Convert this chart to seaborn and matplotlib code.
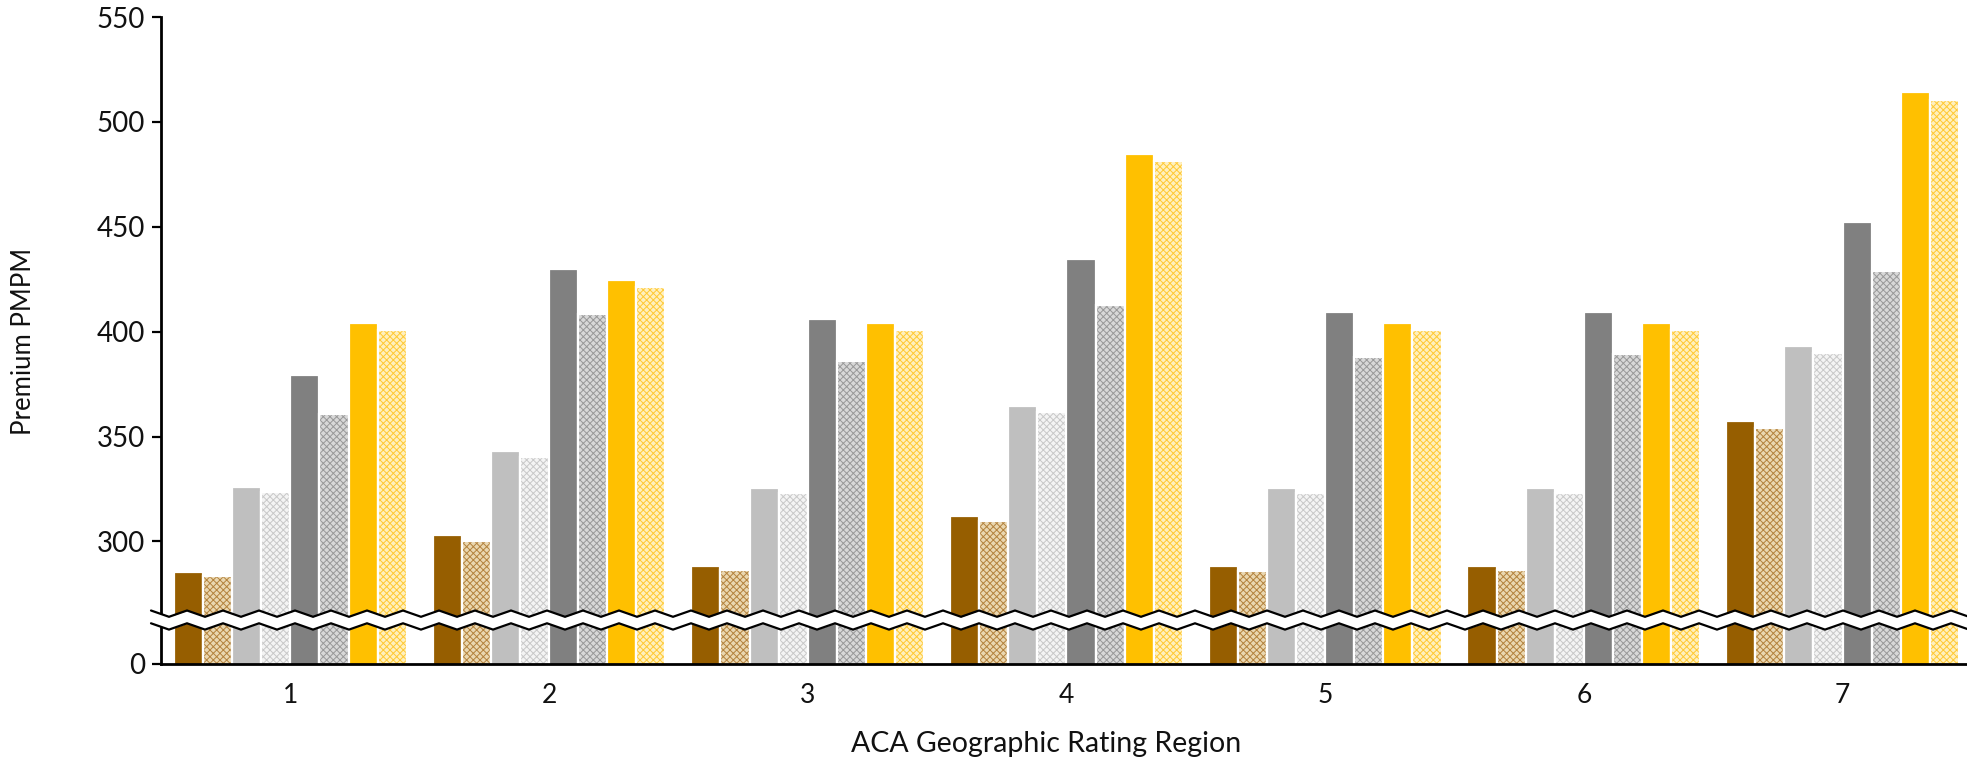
import numpy as np
import pandas as pd
import matplotlib
matplotlib.use("Agg")
import matplotlib.pyplot as plt
from matplotlib.colors import to_rgba
import seaborn as sns

# ---- data -------------------------------------------------------------
regions = ["1", "2", "3", "4", "5", "6", "7"]

bronze     = [285.5, 303.0, 288.2, 312.3, 288.1, 288.2, 357.4]
bronze_b   = [283.5, 300.3, 286.3, 309.8, 286.1, 286.2, 354.3]
silver     = [325.9, 342.9, 325.7, 364.5, 325.6, 325.7, 393.3]
silver_b   = [323.4, 340.4, 323.2, 361.9, 323.1, 323.3, 390.0]
charcoal   = [379.3, 430.0, 406.0, 434.6, 409.2, 409.2, 452.4]
charcoal_b = [361.0, 408.5, 386.2, 412.8, 388.0, 389.4, 429.0]
gold       = [404.3, 424.4, 404.1, 484.7, 404.0, 404.0, 514.2]
gold_b     = [401.0, 421.4, 400.9, 481.2, 400.8, 401.0, 510.3]

series_names = ["bronze", "bronze_b", "silver", "silver_b",
                "charcoal", "charcoal_b", "gold", "gold_b"]
series_values = [bronze, bronze_b, silver, silver_b,
                 charcoal, charcoal_b, gold, gold_b]

y_tick_values = [300, 350, 400, 450, 500, 550]
y_tick_labels = ["300", "350", "400", "450", "500", "550"]
zero_label = "0"

x_label = "ACA Geographic Rating Region"
y_label = "Premium PMPM"

# ---- styling ----------------------------------------------------------
AXIS_FLOOR = 241.6          # value where the (broken) axis meets the x-axis
BREAK_LOW, BREAK_HIGH = 259.5, 265.6

solid_colors = {"bronze": "#965E00", "silver": "#BFBFBF",
                "charcoal": "#808080", "gold": "#FFC000"}
# patterned bars: light ground + darker checker
pattern_colors = {"bronze_b": ("#EAD7B0", "#B3823C"),
                  "silver_b": ("#F4F4F4", "#C8C8C8"),
                  "charcoal_b": ("#D8D8D8", "#989898"),
                  "gold_b": ("#FFF0BE", "#FFC933")}

palette = []
for name in series_names:
    if name in solid_colors:
        palette.append(solid_colors[name])
    else:
        palette.append(pattern_colors[name][0])

sns.set_theme(style="ticks")
plt.rcParams["font.family"] = ["Lato", "DejaVu Sans"]
plt.rcParams["hatch.linewidth"] = 0.7

df = pd.DataFrame({
    "region": np.tile(regions, len(series_names)),
    "series": np.repeat(series_names, len(regions)),
    "premium": np.concatenate(series_values),
})

W, H, DPI = 1967, 760, 100
fig = plt.figure(figsize=(W / DPI, H / DPI), dpi=DPI)
fig.patch.set_facecolor("white")
ax = fig.add_axes([161 / W, 96 / H, 1806 / W, 647 / H])

sns.barplot(data=df, x="region", y="premium", hue="series",
            order=regions, hue_order=series_names, palette=palette,
            saturation=1, width=0.9, errorbar=None, legend=False, ax=ax)

for name, container in zip(series_names, ax.containers):
    for bar in container:
        bar.set_edgecolor("white")
        bar.set_linewidth(1.6)
        if name in pattern_colors:
            bar.set_hatch("xxxxx")
            bar._hatch_color = to_rgba(pattern_colors[name][1])

ax.set_xlim(-0.5, 6.481)
ax.set_ylim(AXIS_FLOOR, 550)
ax.set_yticks([AXIS_FLOOR] + y_tick_values)
ax.set_yticklabels([zero_label] + y_tick_labels)

text_color = "#111111"
ax.tick_params(axis="y", length=6.5, width=1.6, pad=5.0,
               labelsize=20, colors="black", labelcolor=text_color)
ax.tick_params(axis="x", length=0, pad=14, labelsize=19,
               labelcolor=text_color)

sns.despine(ax=ax)
for side in ("left", "bottom"):
    ax.spines[side].set_linewidth(2.0)
    ax.spines[side].set_color("black")

ax.set_xlabel(x_label, fontsize=20.5, color=text_color)
ax.set_ylabel(y_label, fontsize=18.5, color=text_color)
ax.xaxis.set_label_coords(0.49, -0.124)
ax.yaxis.set_label_coords(-0.0764, 0.498)
ax.xaxis.label.set_va("center")
ax.yaxis.label.set_va("center")

# ---- axis break: white band bounded by two zigzag lines ---------------
period = 36 / 1806
amp = 1.5
x_start = -10 / 1806
xs = np.arange(x_start, 1.0 + period / 2, period / 2)
wave = np.where(np.arange(len(xs)) % 2 == 0, amp, -amp)
upper = BREAK_HIGH + wave
lower = BREAK_LOW + wave
trans = ax.get_yaxis_transform()
ax.fill_between(xs, lower, upper, color="white", transform=trans,
                clip_on=False, zorder=5, linewidth=0)
ax.plot(xs, upper, color="black", lw=1.6, transform=trans,
        clip_on=False, zorder=6, solid_joinstyle="miter")
ax.plot(xs, lower, color="black", lw=1.6, transform=trans,
        clip_on=False, zorder=6, solid_joinstyle="miter")

fig.savefig("out.png", dpi=DPI, facecolor="white")
